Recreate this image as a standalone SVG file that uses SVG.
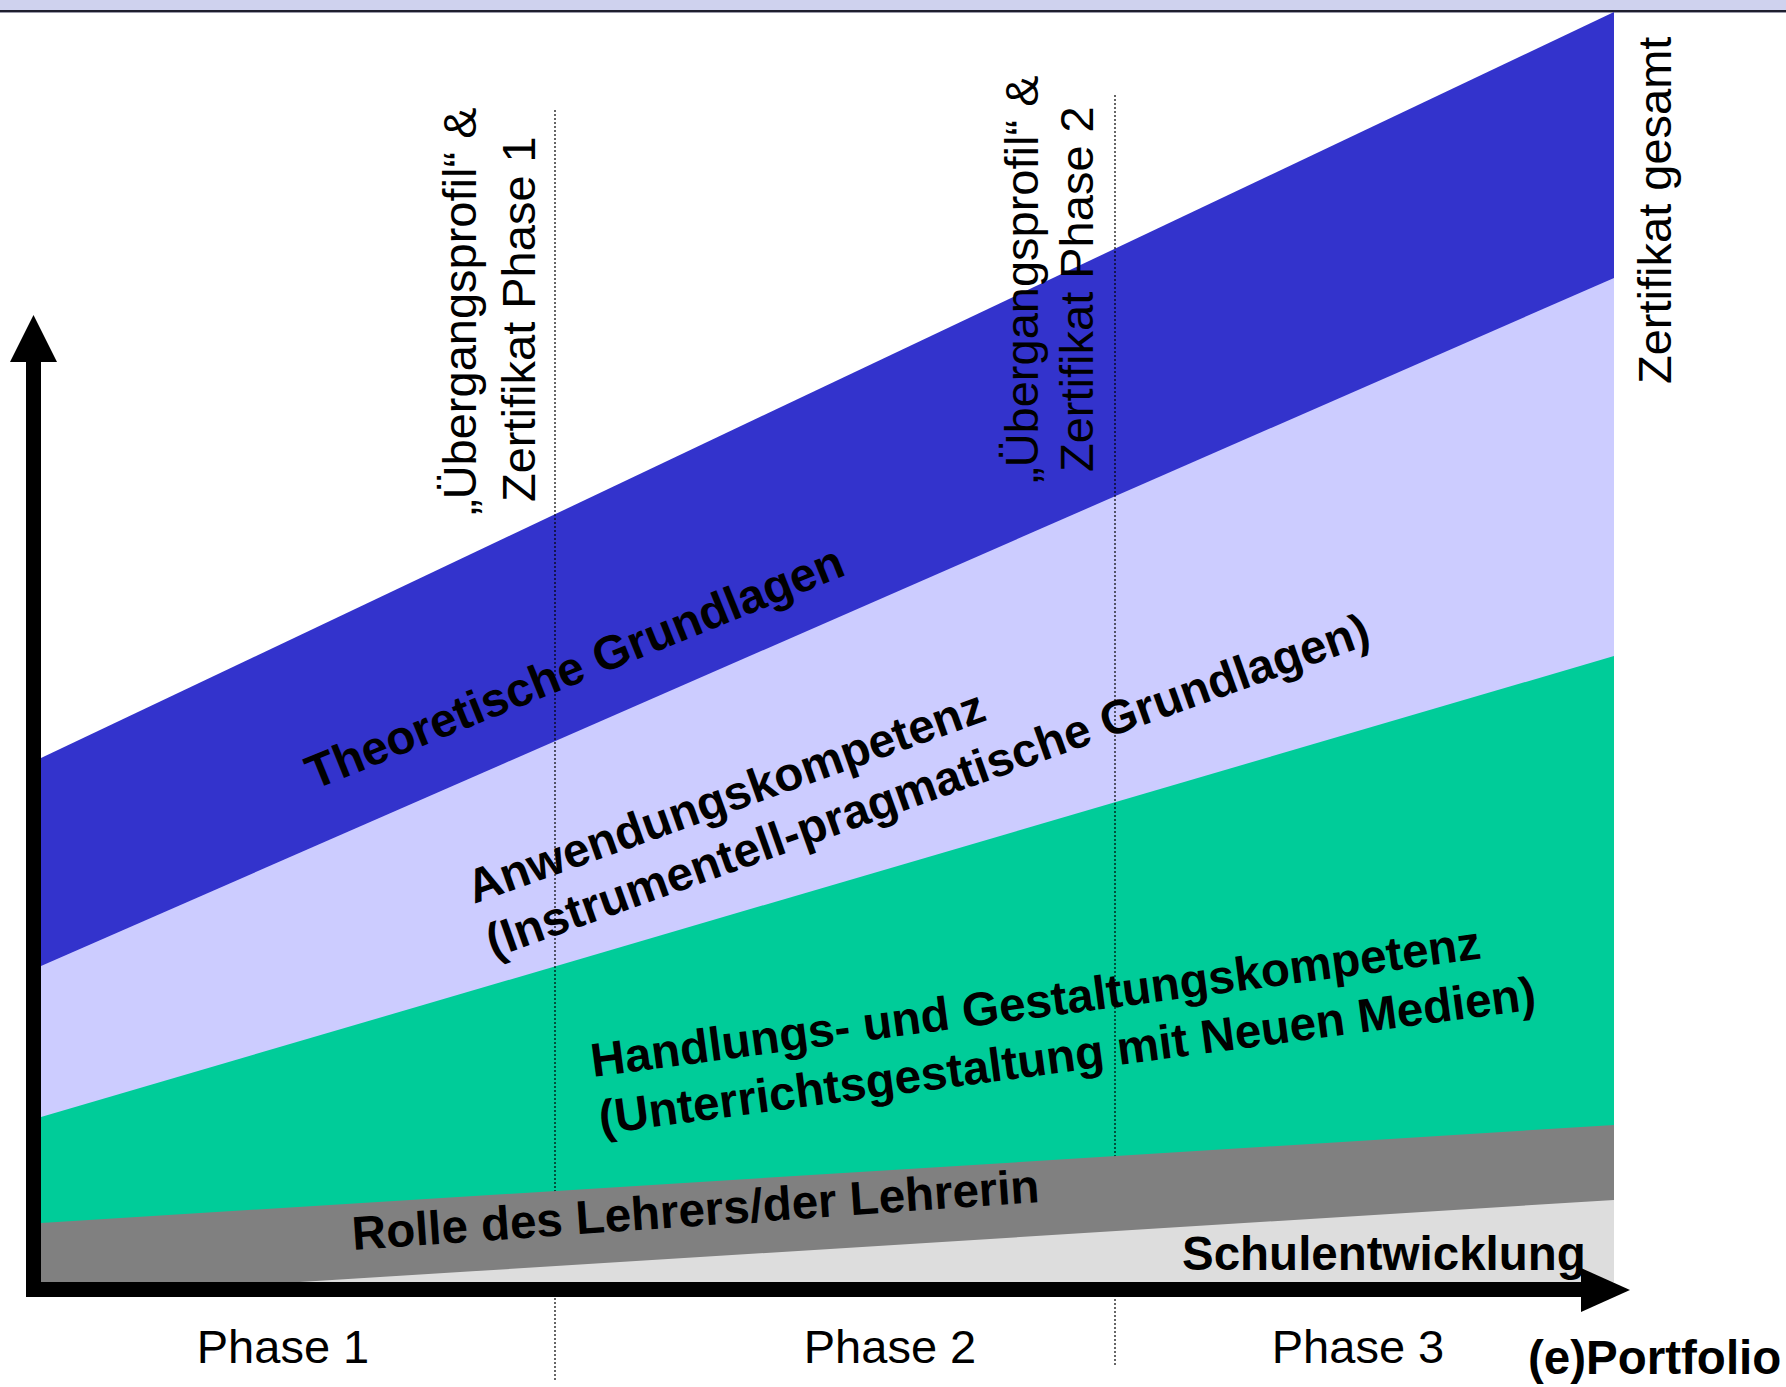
<svg xmlns="http://www.w3.org/2000/svg" width="1786" height="1387" viewBox="0 0 1786 1387">
  <style>
    .reg { font-family: "Liberation Sans", Arial, sans-serif; font-size: 47px; fill: #000; }
    .bold { font-family: "Liberation Sans", Arial, sans-serif; font-size: 47.5px; font-weight: bold; fill: #000; }
    .dot { stroke: #000; stroke-width: 1.2; stroke-dasharray: 2 2; fill: none; }
    .axis { fill: #000; }
  </style>
  <rect x="0" y="0" width="1786" height="1387" fill="#ffffff"/>
  <g id="top-band">
    <rect x="0" y="0" width="1786" height="10" fill="#cfd2ee"/>
    <rect x="0" y="10" width="1786" height="2" fill="#1e1e2e"/>
    <rect x="0" y="12" width="1786" height="1" fill="#9a9aaa"/>
  </g>
  <g id="bands">
    <polygon id="band-theorie" points="41,758 1614,12 1614,1282 41,1282" fill="#3333cc"/>
    <polygon id="band-anwendung" points="41,966 1614,278 1614,1282 41,1282" fill="#ccccff"/>
    <polygon id="band-handlung" points="41,1117 1614,656 1614,1282 41,1282" fill="#00cc99"/>
  </g>
  <g id="connectors">
    <line class="dot" x1="555" y1="110" x2="555" y2="1382"/>
    <line class="dot" x1="1115" y1="95" x2="1115" y2="1367"/>
  </g>
  <g id="bands-lower">
    <polygon id="band-rolle" points="41,1223 1614,1125 1614,1282 41,1282" fill="#808080"/>
    <polygon id="band-schule" points="300,1282 1614,1200 1614,1282" fill="#dddddd"/>
  </g>
  <g id="axes">
    <rect class="axis" x="26" y="355" width="15" height="942"/>
    <polygon class="axis" points="10,362 33.5,315 57,362"/>
    <rect class="axis" x="26" y="1282" width="1560" height="15"/>
    <polygon class="axis" points="1581,1268 1630,1290 1581,1312"/>
  </g>
  <g id="label-phase1-cert">
    <text class="reg" transform="translate(476,515) rotate(-90)">„Übergangsprofil“ &amp;</text>
    <text class="reg" transform="translate(535,502) rotate(-90)">Zertifikat Phase 1</text>
  </g>
  <g id="label-phase2-cert">
    <text class="reg" transform="translate(1038,483) rotate(-90)">„Übergangsprofil“ &amp;</text>
    <text class="reg" transform="translate(1093,472) rotate(-90)">Zertifikat Phase 2</text>
  </g>
  <g id="label-gesamt">
    <text class="reg" font-size="48" transform="translate(1671,384) rotate(-90)">Zertifikat gesamt</text>
  </g>
  <g id="node-theorie">
    <text class="bold" transform="translate(314,790) rotate(-22)">Theoretische Grundlagen</text>
  </g>
  <g id="node-anwendung">
    <text class="bold" transform="translate(474,904) rotate(-19.7)">Anwendungskompetenz</text>
    <text class="bold" transform="translate(493,958) rotate(-19.7)">(Instrumentell-pragmatische Grundlagen)</text>
  </g>
  <g id="node-handlung">
    <text class="bold" transform="translate(593,1077) rotate(-7.6)">Handlungs- und Gestaltungskompetenz</text>
    <text class="bold" transform="translate(601,1134) rotate(-7.6)">(Unterrichtsgestaltung mit Neuen Medien)</text>
  </g>
  <g id="node-rolle">
    <text class="bold" transform="translate(353,1250) rotate(-4)">Rolle des Lehrers/der Lehrerin</text>
  </g>
  <g id="node-schule">
    <text class="bold" x="1182" y="1270">Schulentwicklung</text>
  </g>
  <g id="phases">
    <text class="reg" font-size="46" x="283" y="1363" text-anchor="middle">Phase 1</text>
    <text class="reg" font-size="46" x="890" y="1363" text-anchor="middle">Phase 2</text>
    <text class="reg" font-size="46" x="1358" y="1363" text-anchor="middle">Phase 3</text>
  </g>
  <g id="label-portfolio">
    <text class="bold" font-size="47" x="1528" y="1374">(e)Portfolio</text>
  </g>
</svg>
